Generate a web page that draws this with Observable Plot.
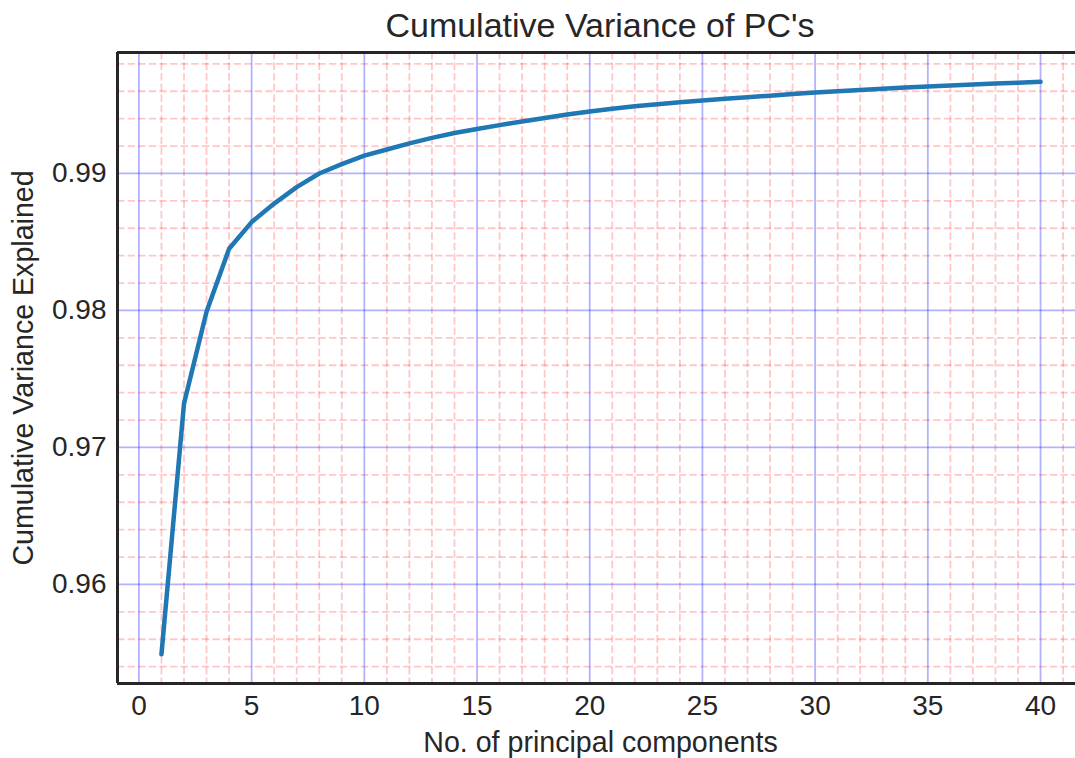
<!DOCTYPE html>
<html><head><meta charset="utf-8">
<script src="https://cdn.jsdelivr.net/npm/d3@7"></script>
<script src="https://cdn.jsdelivr.net/npm/@observablehq/plot@0.6"></script>
<style>
html,body{margin:0;padding:0;background:#fff;overflow:hidden;}
#title{position:relative;height:46px;width:1075px;font-family:"Liberation Sans",Arial,sans-serif;color:#262626;}
#title span{position:absolute;left:600px;top:8px;transform:translateX(-50%);font-size:34px;line-height:34px;white-space:nowrap;}
#chart svg{display:block;}
</style></head><body>
<div id="title"><span>Cumulative Variance of PC's</span></div>
<div id="chart"></div>
<script>
const titleText = "Cumulative Variance of PC's";
const xLabel = "No. of principal components";
const yLabel = "Cumulative Variance Explained";

const pcs = [1,2,3,4,5,6,7,8,9,10,11,12,13,14,15,16,17,18,19,20,21,22,23,24,25,26,27,28,29,30,31,32,33,34,35,36,37,38,39,40];
const cumVar = [0.9549,0.9732,0.9799,0.9845,0.98645,0.9878,0.9890,0.9900,0.99068,0.9913,
  0.99175,0.9922,0.9926,0.99295,0.99325,0.99353,0.9938,0.99405,0.9943,0.99452,
  0.99472,0.9949,0.99506,0.9952,0.99532,0.99545,0.99557,0.99568,0.9958,0.99591,
  0.996,0.99609,0.99618,0.99627,0.99635,0.99643,0.9965,0.99657,0.99663,0.99669];

const xMajor = [0,5,10,15,20,25,30,35,40];
const xMinor = [1,2,3,4,6,7,8,9,11,12,13,14,16,17,18,19,21,22,23,24,26,27,28,29,31,32,33,34,36,37,38,39,41];
const yMajor = [0.96,0.97,0.98,0.99];
const yMinor = [0.954,0.956,0.958,0.962,0.964,0.966,0.968,0.972,0.974,0.976,0.978,0.982,0.984,0.986,0.988,0.992,0.994,0.996,0.998];
const xDomain = [-0.95, 41.95];
const yDomain = [0.95277, 0.99883];

const data = pcs.map((p, i) => ({pc: p, v: cumVar[i]}));
const ink = "#262626";

const chart = Plot.plot({
  width: 1075, height: 712,
  marginLeft: 117, marginRight: 0, marginTop: 6, marginBottom: 75,
  style: {fontFamily: "'Liberation Sans', Arial, sans-serif", fontSize: "28px", color: ink, background: "white", overflow: "hidden"},
  x: {domain: xDomain, range: [117, 1084]},
  y: {domain: yDomain},
  marks: [
    Plot.ruleX(xMinor, {stroke: "#ff0000", strokeOpacity: 0.22, strokeWidth: 1.8, strokeDasharray: "7.4,3.2"}),
    Plot.ruleY(yMinor, {stroke: "#ff0000", strokeOpacity: 0.22, strokeWidth: 1.8, strokeDasharray: "7.4,3.2"}),
    Plot.ruleX(xMajor, {stroke: "#0000ff", strokeOpacity: 0.3, strokeWidth: 1.8}),
    Plot.ruleY(yMajor, {stroke: "#0000ff", strokeOpacity: 0.3, strokeWidth: 1.8}),
    Plot.line(data, {x: "pc", y: "v", stroke: "#1f77b4", strokeWidth: 4.5, strokeLinecap: "round"}),
    Plot.axisX({ticks: xMajor, tickSize: 0, tickPadding: 12, fontSize: 28, label: null}),
    Plot.axisY({ticks: yMajor, tickSize: 0, tickPadding: 11, fontSize: 28, tickFormat: d3.format(".2f"), label: null}),
    Plot.text([xLabel], {frameAnchor: "bottom", lineAnchor: "top", textAnchor: "middle", dy: 48, dx: 4, fontSize: 28.6, fill: ink}),
    Plot.text([yLabel], {frameAnchor: "left", rotate: -90, lineAnchor: "top", textAnchor: "middle", dx: -105, fontSize: 28.6, fill: ink}),
    Plot.ruleX([xDomain[0]], {stroke: ink, strokeWidth: 3}),
    Plot.ruleY(yDomain, {stroke: ink, strokeWidth: 3})
  ]
});
document.getElementById("chart").appendChild(chart);
</script>
</body></html>
